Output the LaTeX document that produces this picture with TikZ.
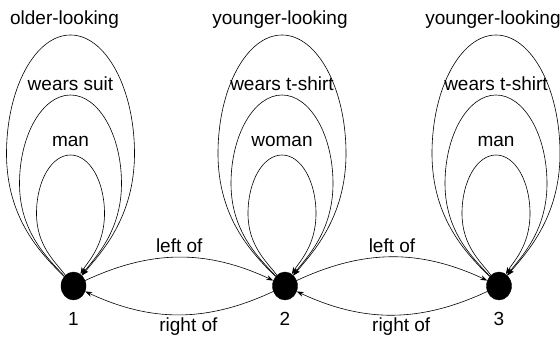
\documentclass[tikz,border=0pt]{standalone}
\usepackage{fontspec}
\setmainfont{Liberation Sans}
\usetikzlibrary{arrows.meta, calc, shapes.geometric}

\begin{document}
\begin{tikzpicture}[
  x=1pt, y=1pt,
  every node/.style={font=\fontsize{19}{22}\selectfont, inner sep=2pt},
  obj/.style={ellipse, draw, fill=black, minimum width=25pt, minimum height=28pt, inner sep=0pt},
  arr/.style={-{Stealth[length=7pt, width=5pt]}, line width=0.6pt}
]
  \useasboundingbox (0,0) rectangle (560,337);

  \node[obj, label={[label distance=10pt]below:1}] (n1) at (73.5,51) {};
  \node[obj, label={[label distance=10pt]below:2}] (n2) at (285,51) {};
  \node[obj, label={[label distance=10pt]below:3}] (n3) at (499,51) {};

  % properties of object 1
  \begin{scope}[shift={(n1)}]
    \draw[arr] (n1) .. controls (-18,24) and (-37,40) .. (-37,72.5) .. controls (-37,105) and (-22,131) .. (-3,131) node[above=6pt] {man}
      .. controls (16,131) and (31,105) .. (31,72.5) .. controls (31,40) and (14,24) .. (n1);
    \draw[arr] (n1) .. controls (-26,28) and (-54,54) .. (-54,102.5) .. controls (-54,151) and (-31,191) .. (-3,191) node[above=2pt] {wears suit}
      .. controls (25,191) and (48,151) .. (48,102.5) .. controls (48,54) and (21,28) .. (n1);
    \draw[arr] (n1) .. controls (-32,32) and (-67,67) .. (-67,132.5) .. controls (-67,198) and (-38,251) .. (-3,251) node[above=4pt, xshift=-6pt] {older-looking}
      .. controls (32,251) and (61,198) .. (61,132.5) .. controls (61,67) and (26,32) .. (n1);
  \end{scope}

  % properties of object 2
  \begin{scope}[shift={(n2)}]
    \draw[arr] (n2) .. controls (-18,24) and (-37,40) .. (-37,72.5) .. controls (-37,105) and (-22,131) .. (-3,131) node[above=6pt] {woman}
      .. controls (16,131) and (31,105) .. (31,72.5) .. controls (31,40) and (14,24) .. (n2);
    \draw[arr] (n2) .. controls (-26,28) and (-54,54) .. (-54,102.5) .. controls (-54,151) and (-31,191) .. (-3,191) node[above=2pt] {wears t-shirt}
      .. controls (25,191) and (48,151) .. (48,102.5) .. controls (48,54) and (21,28) .. (n2);
    \draw[arr] (n2) .. controls (-32,32) and (-67,67) .. (-67,132.5) .. controls (-67,198) and (-38,251) .. (-3,251) node[above=4pt, xshift=-2pt] {younger-looking}
      .. controls (32,251) and (61,198) .. (61,132.5) .. controls (61,67) and (26,32) .. (n2);
  \end{scope}

  % properties of object 3
  \begin{scope}[shift={(n3)}]
    \draw[arr] (n3) .. controls (-18,24) and (-37,40) .. (-37,72.5) .. controls (-37,105) and (-22,131) .. (-3,131) node[above=6pt] {man}
      .. controls (16,131) and (31,105) .. (31,72.5) .. controls (31,40) and (14,24) .. (n3);
    \draw[arr] (n3) .. controls (-26,28) and (-54,54) .. (-54,102.5) .. controls (-54,151) and (-31,191) .. (-3,191) node[above=2pt] {wears t-shirt}
      .. controls (25,191) and (48,151) .. (48,102.5) .. controls (48,54) and (21,28) .. (n3);
    \draw[arr] (n3) .. controls (-32,32) and (-67,67) .. (-67,132.5) .. controls (-67,198) and (-38,251) .. (-3,251) node[above=4pt, xshift=-3pt] {younger-looking}
      .. controls (32,251) and (61,198) .. (61,132.5) .. controls (61,67) and (26,32) .. (n3);
  \end{scope}

  % relations
  \draw[arr] (n1) to[bend left=25] node[above=2pt] {left of} (n2);
  \draw[arr] (n2) to[bend left=25] node[below=1pt, pos=0.45] {right of} (n1);
  \draw[arr] (n2) to[bend left=25] node[above=2pt] {left of} (n3);
  \draw[arr] (n3) to[bend left=25] node[below=1pt, pos=0.45] {right of} (n2);
\end{tikzpicture}
\end{document}
